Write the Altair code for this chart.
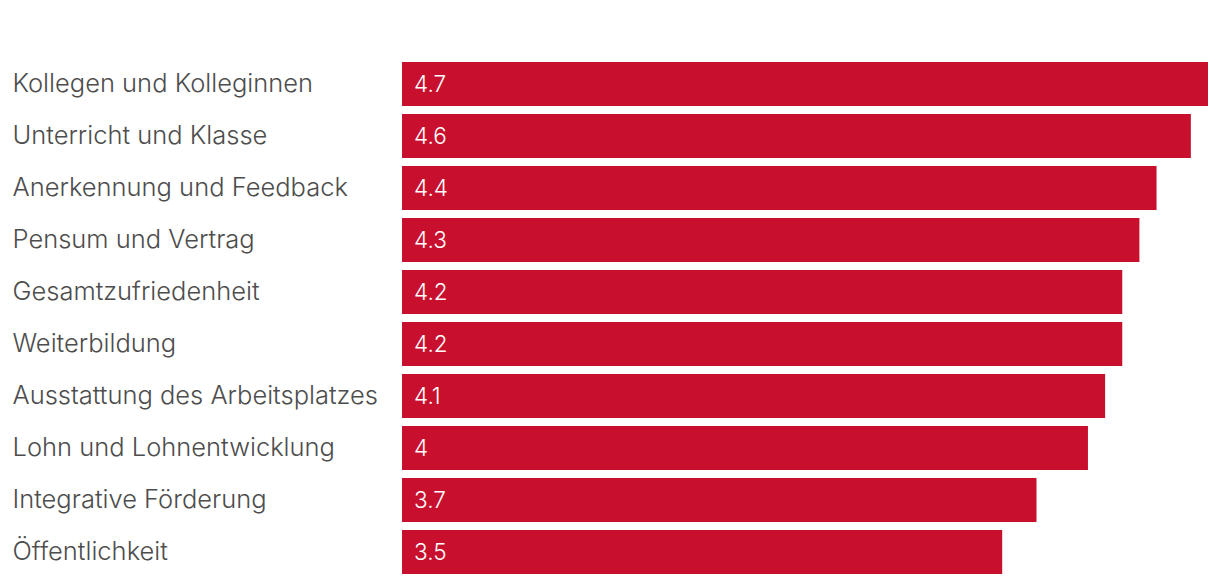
import altair as alt
import pandas as pd

categories = [
    "Kollegen und Kolleginnen",
    "Unterricht und Klasse",
    "Anerkennung und Feedback",
    "Pensum und Vertrag",
    "Gesamtzufriedenheit",
    "Weiterbildung",
    "Ausstattung des Arbeitsplatzes",
    "Lohn und Lohnentwicklung",
    "Integrative Förderung",
    "Öffentlichkeit",
]
values = [4.7, 4.6, 4.4, 4.3, 4.2, 4.2, 4.1, 4.0, 3.7, 3.5]

df = pd.DataFrame({"Kategorie": categories, "Wert": values})

FONT = "Inter"

y_enc = alt.Y(
    "Kategorie:N",
    sort=categories,
    title=None,
    scale=alt.Scale(paddingInner=8 / 52, paddingOuter=4 / 52),
    axis=alt.Axis(
        labelAlign="left",
        labelPadding=390,
        labelFontSize=25.5,
        labelFont=FONT,
        labelFontWeight=300,
        labelColor="#4d4d4d",
        labelLimit=400,
        ticks=False,
        domain=False,
        grid=False,
    ),
)

bars = alt.Chart(df).mark_bar(color="#C8102E").encode(
    y=y_enc,
    x=alt.X("Wert:Q", scale=alt.Scale(domain=[0, 4.7], nice=False), axis=None),
)

labels = alt.Chart(df).mark_text(
    align="left", baseline="middle", dx=12, dy=1, color="white", fontSize=22.5, font=FONT, fontWeight=300
).encode(
    y=alt.Y("Kategorie:N", sort=categories),
    x=alt.X(datum=0),
    text=alt.Text("Wert:Q"),
)

chart = (
    alt.layer(bars, labels)
    .properties(width=806, height=520, padding={"left": 4, "top": 50, "right": 0, "bottom": 0})
    .configure_view(stroke=None)
)

chart.save("out.html", embed_options={"renderer": "svg", "actions": False})
